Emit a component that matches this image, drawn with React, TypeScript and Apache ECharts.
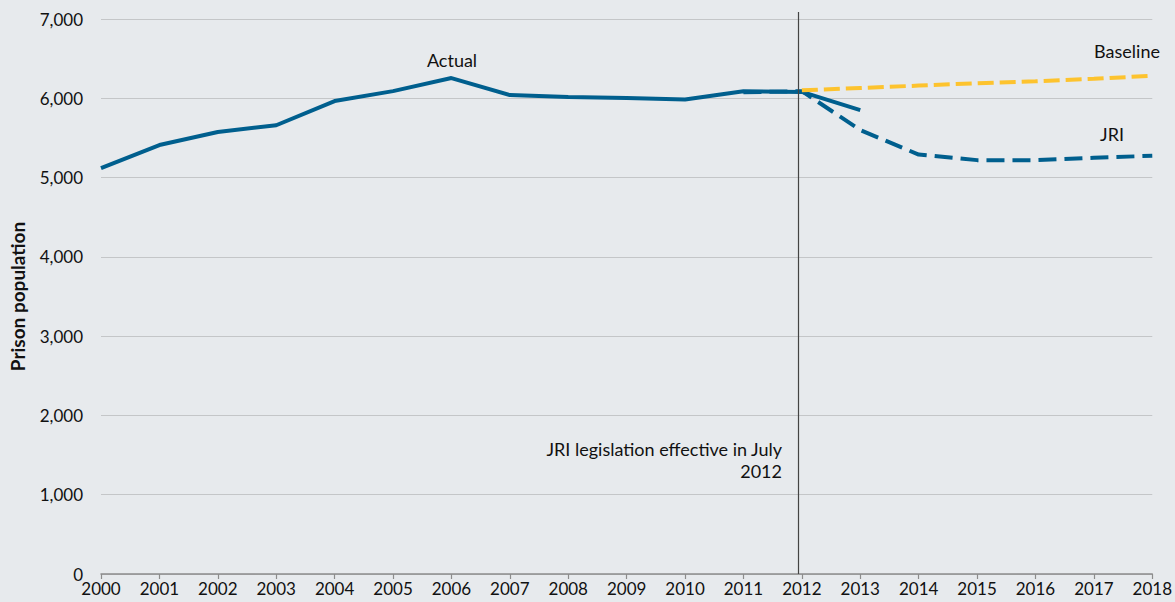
import React, { useEffect, useRef } from "react";
import * as echarts from "echarts";

const actualYears = [2000, 2001, 2002, 2003, 2004, 2005, 2006, 2007, 2008, 2009, 2010, 2011, 2012, 2013];
const actualValues = [5120, 5410, 5575, 5660, 5965, 6090, 6255, 6040, 6015, 6005, 5985, 6090, 6080, 5850];

const jriYears = [2011, 2012, 2013, 2014, 2015, 2016, 2017, 2018];
const jriValues = [6075, 6090, 5600, 5290, 5220, 5220, 5250, 5275];

const baselineYears = [2012, 2013, 2014, 2015, 2016, 2017, 2018];
const baselineValues = [6100, 6130, 6160, 6190, 6215, 6245, 6285];

const legislationYear = 2011.94;

const FONT = "Lato, 'Open Sans', sans-serif";
const BLUE = "#005f8e";
const YELLOW = "#fdc32e";

const pairs = (xs: number[], ys: number[]) => xs.map((x, i) => [x, ys[i]]);

export default function App() {
  const ref = useRef<HTMLDivElement>(null);
  useEffect(() => {
    if (!ref.current) return;
    const chart = echarts.init(ref.current, null, { renderer: "svg" });
    chart.setOption({
      animation: false,
      backgroundColor: "#e7eaed",
      textStyle: { fontFamily: FONT },
      grid: { left: 99, right: 21, top: 19, bottom: 28, containLabel: false },
      xAxis: {
        type: "value",
        min: 2000,
        max: 2018,
        interval: 1,
        splitLine: { show: false },
        axisLine: { show: true, lineStyle: { color: "#8c8c8c", width: 1.5 } },
        axisTick: { show: true, length: 5, lineStyle: { color: "#8c8c8c", width: 1.2 } },
        axisLabel: {
          color: "#111",
          fontSize: 17,
          fontFamily: FONT,
          margin: 6,
          formatter: (v: number) => String(v),
        },
      },
      yAxis: {
        type: "value",
        min: 0,
        max: 7000,
        interval: 1000,
        name: "Prison population",
        nameLocation: "middle",
        nameRotate: 90,
        nameGap: 74,
        nameTextStyle: { fontSize: 19, fontWeight: "bold", color: "#111", fontFamily: FONT },
        axisLine: { show: false },
        axisTick: { show: false },
        splitLine: { lineStyle: { color: "#c4c6c8", width: 1.2 } },
        axisLabel: {
          color: "#111",
          fontSize: 17,
          fontFamily: FONT,
          margin: 18,
          formatter: (v: number) => v.toLocaleString("en-US"),
        },
      },
      series: [
        {
          name: "JRI",
          type: "line",
          data: pairs(jriYears, jriValues),
          symbol: "none",
          z: 3,
          lineStyle: { color: BLUE, width: 4, type: [18, 8] },
        },
        {
          name: "Actual",
          type: "line",
          data: pairs(actualYears, actualValues),
          symbol: "none",
          z: 4,
          lineStyle: { color: BLUE, width: 4 },
          markLine: {
            silent: true,
            symbol: "none",
            label: { show: false },
            lineStyle: { color: "#444", width: 1.2, type: "solid" },
            data: [{ xAxis: legislationYear }],
          },
        },
        {
          name: "Baseline",
          type: "line",
          data: pairs(baselineYears, baselineValues),
          symbol: "none",
          z: 5,
          lineStyle: { color: YELLOW, width: 4, type: [16, 6] },
        },
      ],
      graphic: [
        {
          type: "line",
          shape: { x1: 798.5, y1: 12, x2: 798.5, y2: 20 },
          style: { stroke: "#444", lineWidth: 1.2 },
        },
        {
          type: "text",
          x: 452,
          y: 60,
          style: { text: "Actual", fontSize: 18, fill: "#111", fontFamily: FONT, align: "center", verticalAlign: "middle" },
        },
        {
          type: "text",
          x: 1127,
          y: 51,
          style: { text: "Baseline", fontSize: 18, fill: "#111", fontFamily: FONT, align: "center", verticalAlign: "middle" },
        },
        {
          type: "text",
          x: 1112,
          y: 134,
          style: { text: "JRI", fontSize: 18, fill: "#111", fontFamily: FONT, align: "center", verticalAlign: "middle" },
        },
        {
          type: "text",
          x: 782,
          y: 449,
          style: {
            text: "JRI legislation effective in July",
            fontSize: 18,
            align: "right",
            verticalAlign: "middle",
            fill: "#111",
            fontFamily: FONT,
          },
        },
        {
          type: "text",
          x: 782,
          y: 471,
          style: {
            text: "2012",
            fontSize: 18,
            align: "right",
            verticalAlign: "middle",
            fill: "#111",
            fontFamily: FONT,
          },
        },
      ],
    });
    return () => chart.dispose();
  }, []);
  return (
    <div
      ref={ref}
      style={{ position: "fixed", left: 0, top: 0, width: 1175, height: 602 }}
    />
  );
}
